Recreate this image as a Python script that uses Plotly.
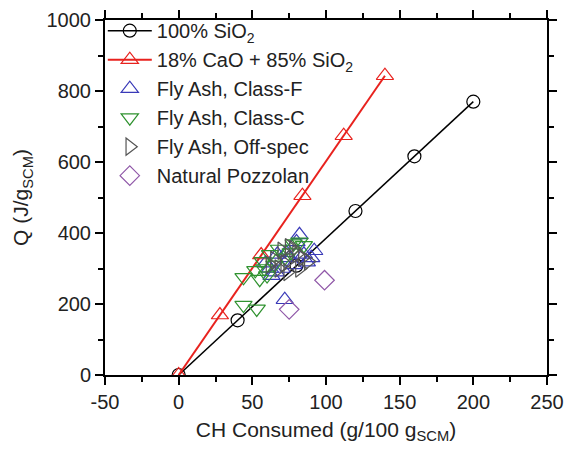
import plotly.graph_objects as go

sio2_x = [0, 40, 80, 120, 160, 200]
sio2_y = [0, 154, 308, 462, 616, 770]
cao_x = [0, 28, 56, 84, 112, 140]
cao_y = [0, 169, 338, 505, 674, 843]

fa_f_x = [82, 92, 72, 59, 63, 67, 87, 80, 70, 75, 62, 85, 78, 66, 90, 73]
fa_f_y = [395, 350, 212, 315, 280, 340, 318, 375, 300, 330, 300, 340, 310, 290, 330, 345]
fa_c_x = [44, 52, 44, 53, 57, 62, 68, 78, 82, 65, 60, 72, 55, 76, 85, 58]
fa_c_y = [275, 295, 197, 186, 320, 340, 355, 370, 375, 310, 280, 330, 270, 345, 365, 300]
fa_o_x = [65, 70, 75, 80, 84, 72, 68, 88, 78, 62, 74, 82]
fa_o_y = [325, 350, 360, 340, 330, 315, 300, 320, 355, 310, 290, 300]
np_x = [99, 75]
np_y = [267, 185]

x_ticks = [-50, 0, 50, 100, 150, 200, 250]
x_labels = ["-50", "0", "50", "100", "150", "200", "250"]
y_ticks = [0, 200, 400, 600, 800, 1000]

fig = go.Figure()
fig.add_trace(go.Scatter(x=sio2_x, y=sio2_y, mode="lines+markers", name="100% SiO<sub>2</sub>",
                         line=dict(color="black", width=1.5),
                         marker=dict(symbol="circle-open", size=13, color="black", line=dict(width=1.2))))
fig.add_trace(go.Scatter(x=cao_x, y=cao_y, mode="lines+markers", name="18% CaO + 85% SiO<sub>2</sub>",
                         line=dict(color="#e8221e", width=2),
                         marker=dict(symbol="triangle-up-open", size=15, color="#e8221e", line=dict(width=1.2))))
fig.add_trace(go.Scatter(x=fa_f_x, y=fa_f_y, mode="markers", name="Fly Ash, Class-F",
                         marker=dict(symbol="triangle-up-open", size=15, color="#3a3ab8", line=dict(width=1.2))))
fig.add_trace(go.Scatter(x=fa_c_x, y=fa_c_y, mode="markers", name="Fly Ash, Class-C",
                         marker=dict(symbol="triangle-down-open", size=15, color="#2f922f", line=dict(width=1.2))))
fig.add_trace(go.Scatter(x=fa_o_x, y=fa_o_y, mode="markers", name="Fly Ash, Off-spec",
                         marker=dict(symbol="triangle-right-open", size=15, color="#555555", line=dict(width=1.2))))
fig.add_trace(go.Scatter(x=np_x, y=np_y, mode="markers", name="Natural Pozzolan",
                         marker=dict(symbol="diamond-open", size=15, color="#9058a8", line=dict(width=1.2))))

axis_common = dict(showline=True, linecolor="black", linewidth=2, mirror="ticks",
                   ticks="outside", ticklen=8, tickwidth=2, tickcolor="black",
                   showgrid=False, zeroline=False, automargin=False,
                   tickfont=dict(family="Liberation Sans, Arial", size=20, color="#222"))

fig.update_layout(
    width=565, height=459,
    margin=dict(l=105, r=18, t=19, b=84),
    paper_bgcolor="white", plot_bgcolor="white",
    font=dict(family="Liberation Sans, Arial", size=20, color="#222"),
    xaxis=dict(range=[-50, 250], tickvals=x_ticks, ticktext=x_labels,
               minor=dict(dtick=25, ticks="outside", ticklen=5, tickwidth=1.5, tickcolor="black"),
               title=dict(text="CH Consumed (g/100 g<sub>SCM</sub>)", font=dict(size=21), standoff=10),
               **axis_common),
    yaxis=dict(range=[0, 1000], tickvals=y_ticks,
               minor=dict(dtick=100, ticks="outside", ticklen=5, tickwidth=1.5, tickcolor="black"),
               title=dict(text="Q (J/g<sub>SCM</sub>)", font=dict(size=21), standoff=12),
               **axis_common),
    legend=dict(x=-0.005, y=1.022, xanchor="left", yanchor="top", bgcolor="rgba(0,0,0,0)",
                font=dict(size=20, color="#222"), itemwidth=44, tracegroupgap=0),
    showlegend=True,
)

fig.write_html("out.html")
